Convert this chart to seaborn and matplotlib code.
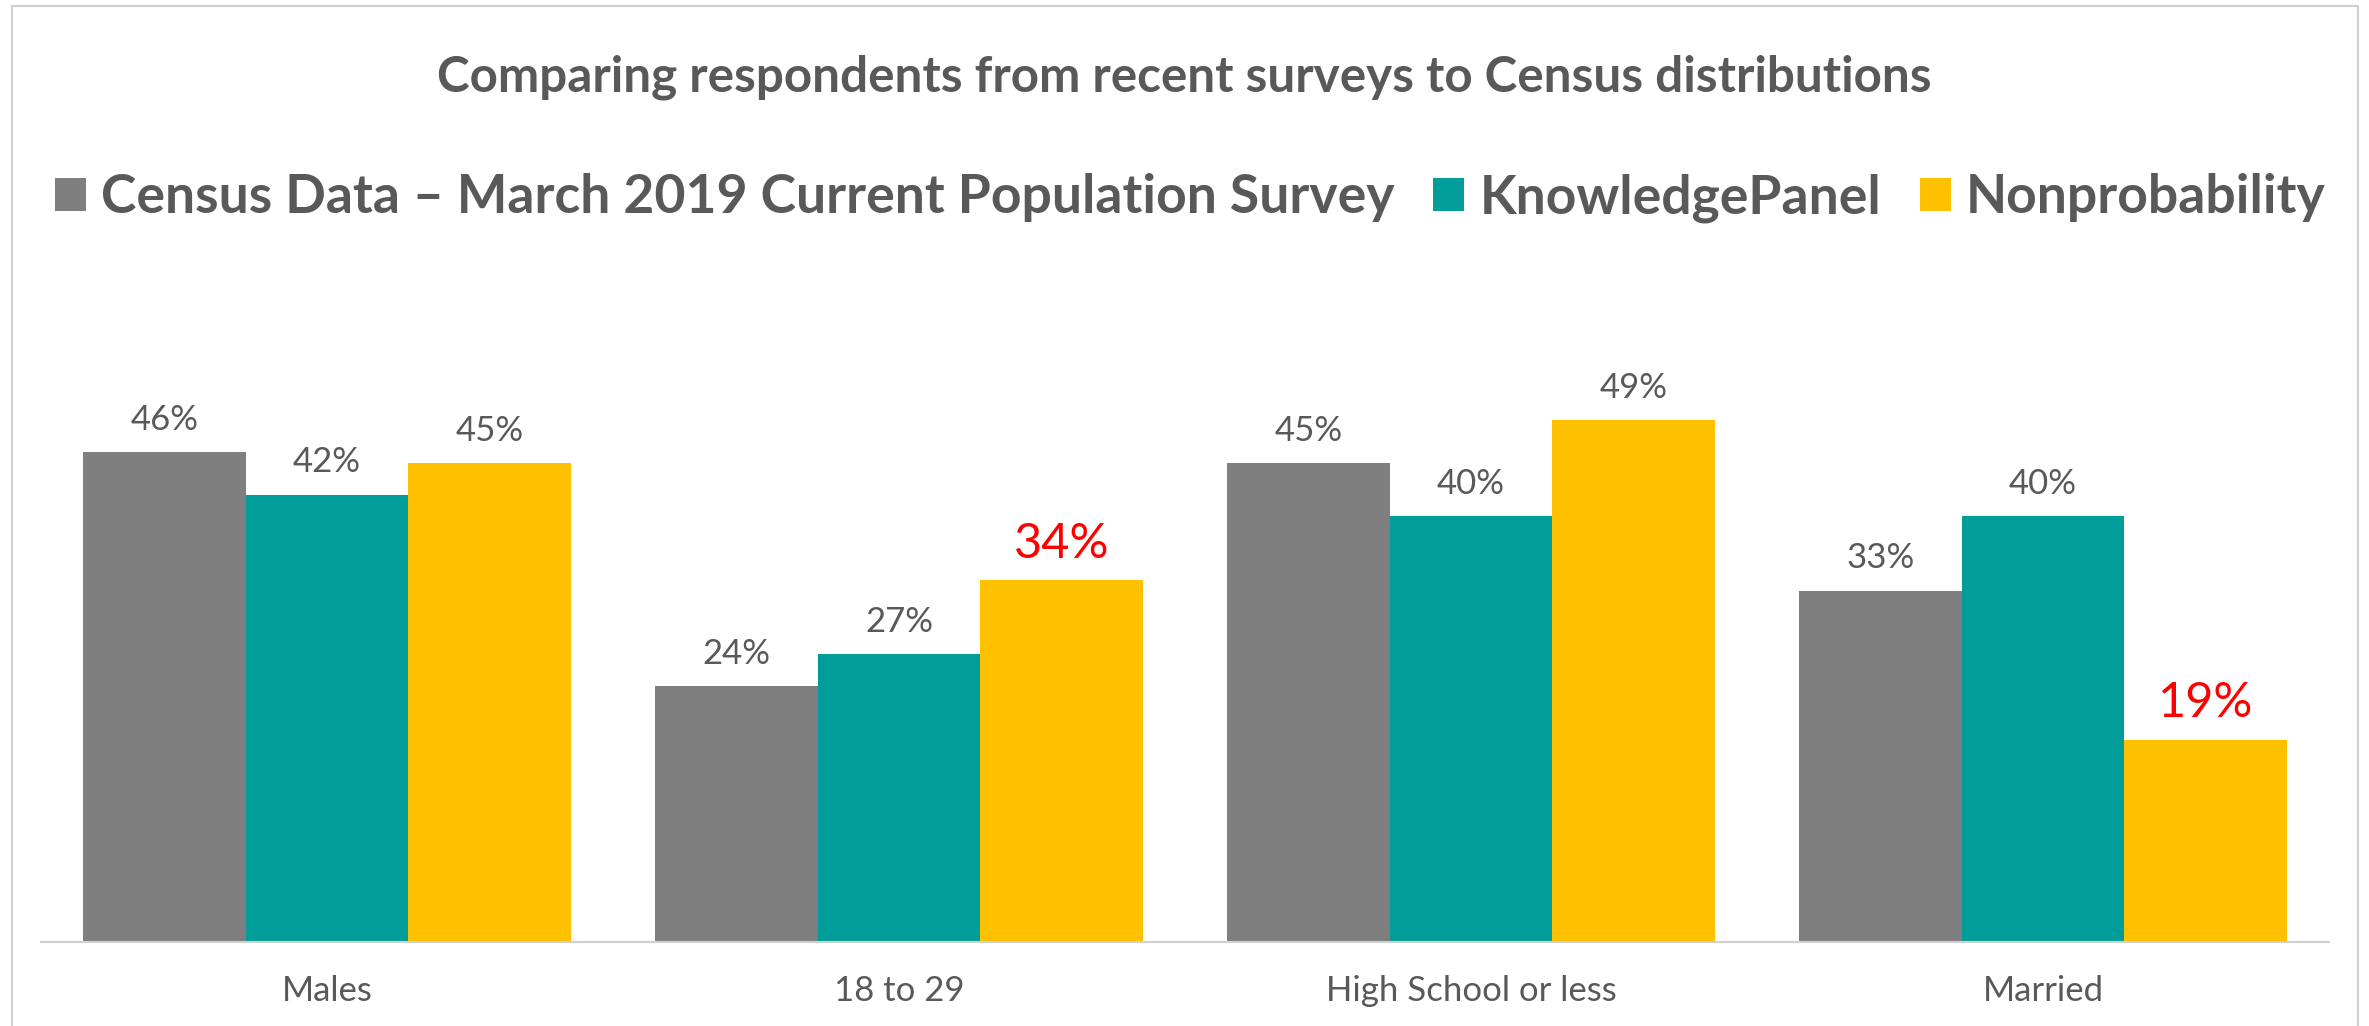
import matplotlib
matplotlib.use("Agg")
import matplotlib.pyplot as plt
from matplotlib.patches import Rectangle, Patch
import seaborn as sns
import pandas as pd

# Survey comparison data (percent of respondents)
groups = ["Males", "18 to 29", "High School or less", "Married"]
series = ["Census Data \u2013 March 2019 Current Population Survey",
          "KnowledgePanel", "Nonprobability"]
census = [46, 24, 45, 33]
knowledge_panel = [42, 27, 40, 40]
nonprobability = [45, 34, 49, 19]
colors = ["#7F7F7F", "#009D9A", "#FFC000"]
# values called out in red
highlight = {(2, 1), (2, 3)}

TEXT = "#595959"
FONT = ["Lato", "DejaVu Sans"]

sns.set_theme(style="white")
plt.rcParams["font.family"] = FONT

rows = []
for s, vals in zip(series, [census, knowledge_panel, nonprobability]):
    for g, v in zip(groups, vals):
        rows.append({"group": g, "series": s, "value": v})
df = pd.DataFrame(rows)

W, H, DPI = 2369, 1026, 100
fig = plt.figure(figsize=(W / DPI, H / DPI), dpi=DPI)
ax = fig.add_axes([41 / W, 1 - 942 / H, (2329 - 41) / W, (942 - 303) / H])

sns.barplot(data=df, x="group", y="value", hue="series", order=groups,
            hue_order=series, palette=colors, width=0.853, saturation=1,
            linewidth=0, legend=False, ax=ax)

ax.set_xlim(-0.5, 3.5)
ax.set_ylim(0, 60)
ax.set_xlabel("")
ax.set_ylabel("")
ax.set_yticks([])
for side in ["left", "top", "right"]:
    ax.spines[side].set_visible(False)
ax.spines["bottom"].set_color("#D0D0D0")
ax.spines["bottom"].set_linewidth(1.5)

ax.set_xticks(range(len(groups)))
ax.set_xticklabels(groups, fontsize=25, color=TEXT)
ax.tick_params(axis="x", which="major", length=0, pad=24)
ax.set_xticks([i - 0.5 for i in range(len(groups) + 1)], minor=True)
ax.tick_params(axis="x", which="minor", length=9, width=1.5,
               color="#D0D0D0", direction="out")

# value labels above each bar
for si, (container, vals) in enumerate(zip(ax.containers,
                                            [census, knowledge_panel, nonprobability])):
    for gi, (bar, v) in enumerate(zip(container.patches, vals)):
        red = (si, gi) in highlight
        ax.annotate(f"{v}%", (bar.get_x() + bar.get_width() / 2, v),
                    xytext=(0, 16), textcoords="offset points",
                    ha="center", va="baseline",
                    fontsize=35 if red else 25,
                    color="#FF0000" if red else TEXT)

fig.text(0.5, 1 - 77 / H, "Comparing respondents from recent surveys to Census distributions",
         ha="center", va="center", fontsize=35.6, fontweight="bold", color=TEXT)

handles = [Patch(facecolor=c, edgecolor="none") for c in colors]
leg = fig.legend(handles, series, loc="center", bbox_to_anchor=(0.5025, 1 - 198 / H),
                 ncol=3, frameon=False, handlelength=0.58, handleheight=0.58,
                 handletextpad=0.28, columnspacing=0.72,
                 prop={"family": FONT, "weight": "bold", "size": 38.5})
for t in leg.get_texts():
    t.set_color(TEXT)

# outer chart frame
fig.patches.append(Rectangle((12 / W, -0.01), (2358 - 12) / W, 1.01 - 6 / H,
                             transform=fig.transFigure, fill=False,
                             edgecolor="#D0D0D0", linewidth=1.5))

fig.savefig("out.png", dpi=DPI)
